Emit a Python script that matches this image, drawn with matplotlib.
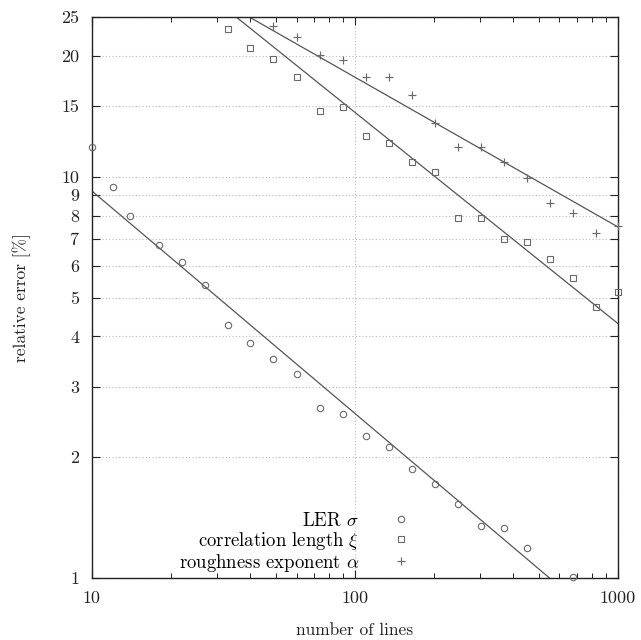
import numpy as np
import matplotlib
matplotlib.use("Agg")
import matplotlib.pyplot as plt
from matplotlib.ticker import FixedLocator, NullFormatter, LogLocator

plt.rcParams['font.family'] = ['cmr10', 'DejaVu Serif']
plt.rcParams['mathtext.fontset'] = 'cm'
plt.rcParams['axes.formatter.use_mathtext'] = True

# measured points (number of lines, relative error in %)
ler_x = [10, 12, 14, 18, 22, 27, 33, 40, 49, 60, 74, 90, 110, 135, 165, 202, 247, 303, 369, 450, 674]
ler_y = [11.86, 9.43, 7.98, 6.76, 6.13, 5.37, 4.27, 3.85, 3.51, 3.22, 2.65, 2.56, 2.26, 2.12, 1.87,
         1.71, 1.53, 1.35, 1.33, 1.19, 1.005]

corr_x = [33, 40, 49, 60, 74, 90, 110, 135, 165, 202, 247, 303, 369, 450, 552, 674, 826, 1000]
corr_y = [23.3, 20.9, 19.65, 17.7, 14.6, 14.9, 12.6, 12.1, 10.9, 10.25, 7.89, 7.88, 7.0, 6.86,
          6.25, 5.59, 4.73, 5.15]

rough_x = [49, 60, 74, 90, 110, 135, 165, 202, 247, 303, 369, 450, 552, 674, 826, 1000]
rough_y = [23.7, 22.3, 20.1, 19.5, 17.7, 17.7, 15.95, 13.6, 11.86, 11.86, 10.86, 9.93, 8.6,
           8.13, 7.24, 7.54]

# power-law fits  y = a * (x/10)^b
ler_fit = (9.21, -0.554)
corr_fit = (48.6, -0.526)
rough_fit = (41.8, -0.373)

labels = [r"LER $\sigma$", r"correlation length $\xi$", r"roughness exponent $\alpha$"]
yticks = [1, 2, 3, 4, 5, 6, 7, 8, 9, 10, 15, 20, 25]

fig = plt.figure(figsize=(6.41, 6.40), dpi=100)
ax = fig.add_axes([0.1435, 0.0969, 0.8201, 0.8765])
ax.set_xscale('log')
ax.set_yscale('log')
ax.set_xlim(10, 1000)
ax.set_ylim(1, 25)

xx = np.logspace(1, 3, 200)
for a, b in [ler_fit, corr_fit, rough_fit]:
    ax.plot(xx, a * (xx / 10) ** b, color='#555555', lw=0.9)

mk = dict(linestyle='none', color='#6a6a6a', markerfacecolor='none', clip_on=False, zorder=3)
ax.plot(ler_x, ler_y, marker='o', markersize=4.6, markeredgewidth=0.8, label=labels[0], **mk)
ax.plot(corr_x, corr_y, marker='s', markersize=4.4, markeredgewidth=0.8, label=labels[1], **mk)
ax.plot(rough_x, rough_y, marker='+', markersize=5.6, markeredgewidth=0.85, label=labels[2], **mk)

ax.yaxis.set_major_locator(FixedLocator(yticks))
ax.set_yticklabels([str(t) for t in yticks])
ax.yaxis.set_minor_locator(FixedLocator([]))
ax.xaxis.set_major_locator(FixedLocator([10, 100, 1000]))
ax.set_xticklabels(["10", "100", "1000"])
ax.xaxis.set_minor_locator(LogLocator(base=10, subs=np.arange(2, 10)))
ax.xaxis.set_minor_formatter(NullFormatter())

ax.tick_params(which='both', direction='in', top=True, right=True, labelsize=13, colors='#222222')
ax.tick_params(which='major', length=6, width=0.8, pad=9)
ax.tick_params(which='minor', length=3.5, width=0.7)

ax.grid(True, which='major', linestyle=(0, (1, 2)), color='#bbbbbb', lw=0.8)
for s in ax.spines.values():
    s.set_color('#222222')
    s.set_linewidth(1.0)

ax.set_xlabel("number of lines", fontsize=12.5, labelpad=12, color='#222222')
ax.set_ylabel("relative error [%]", fontsize=12.5, labelpad=22, color='#222222')

ax.legend(loc='lower right', bbox_to_anchor=(0.644, -0.013), frameon=False, markerfirst=False,
          fontsize=13.5, handletextpad=1.2, labelspacing=0.0, borderaxespad=0.2)

fig.savefig("out.png", dpi=100)
